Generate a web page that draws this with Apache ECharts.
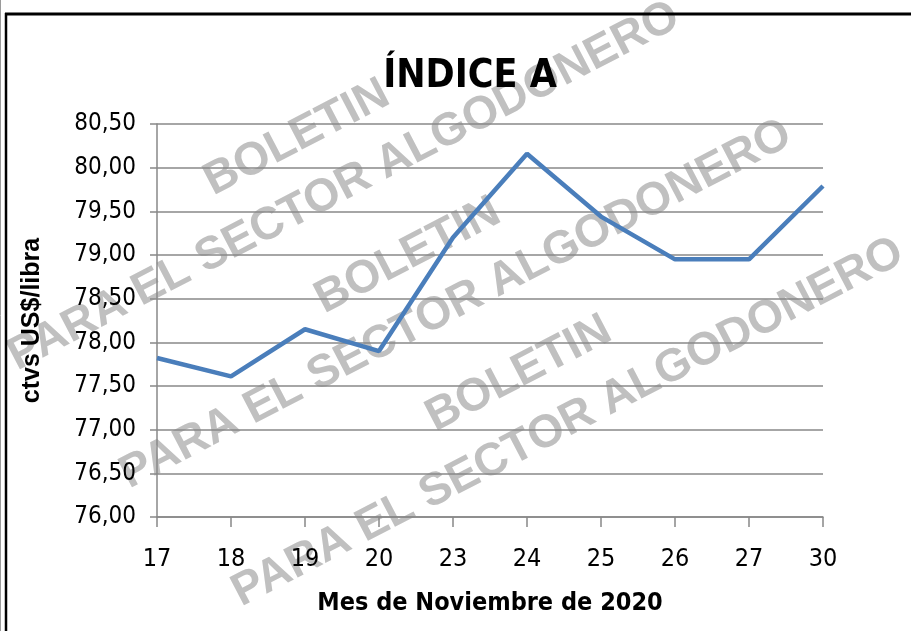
<!DOCTYPE html>
<html>
<head>
<meta charset="utf-8">
<script src="https://cdn.jsdelivr.net/npm/echarts@6/dist/echarts.min.js"></script>
<style>
  html, body { margin: 0; padding: 0; background: #fff; }
  #chart { width: 911px; height: 631px; }
</style>
</head>
<body>
<div id="chart"></div>
<script>
// dias de noviembre 2020 y cotizacion del indice A
var dias = ['17', '18', '19', '20', '23', '24', '25', '26', '27', '30'];
var indiceA = [77.82, 77.61, 78.15, 77.90, 79.20, 80.16, 79.44, 78.95, 78.95, 79.79];

var narrow = '"Liberation Sans Narrow", "DejaVu Sans Condensed", "Liberation Sans", sans-serif';
var gris = '#888888';

// marca de agua: tres bloques repetidos
var marcas = [
    { x: 22, y: 380, t: 'PARA EL SECTOR ALGODONERO' },
    { x: 218, y: 205, t: 'BOLETIN' },
    { x: 134, y: 498, t: 'PARA EL SECTOR ALGODONERO' },
    { x: 329, y: 323, t: 'BOLETIN' },
    { x: 246, y: 616, t: 'PARA EL SECTOR ALGODONERO' },
    { x: 440, y: 441, t: 'BOLETIN' }
];
var ang = 27.5 * Math.PI / 180;

var graficos = marcas.map(function (m) {
    return {
        type: 'text',
        x: m.x,
        y: m.y,
        rotation: ang,
        z: -1,
        silent: true,
        style: {
            text: m.t,
            fill: '#c0c0c0',
            font: 'bold 46px "Liberation Sans", Arial, sans-serif',
            textAlign: 'left',
            textVerticalAlign: 'bottom'
        }
    };
});

// marco del grafico
graficos.push({
    type: 'line', silent: true,
    shape: { x1: 5, y1: 14, x2: 911, y2: 14 },
    style: { stroke: '#000', lineWidth: 3 }
});
graficos.push({
    type: 'line', silent: true,
    shape: { x1: 6, y1: 13, x2: 6, y2: 631 },
    style: { stroke: '#000', lineWidth: 2.5 }
});
graficos.push({
    type: 'line', silent: true,
    shape: { x1: 0.5, y1: 0, x2: 0.5, y2: 631 },
    style: { stroke: '#9a9a9a', lineWidth: 1 }
});

var chart = echarts.init(document.getElementById('chart'));
chart.setOption({
    animation: false,
    backgroundColor: '#fff',
    title: {
        text: 'ÍNDICE A',
        left: 465,
        top: 52,
        textAlign: 'center',
        textStyle: { fontFamily: narrow, fontWeight: 'bold', fontSize: 39, color: '#000' }
    },
    graphic: graficos,
    grid: { left: 157, right: 88, top: 124, bottom: 114 },
    xAxis: {
        type: 'category',
        data: dias,
        boundaryGap: false,
        name: 'Mes de Noviembre de 2020',
        nameLocation: 'middle',
        nameGap: 74,
        nameTextStyle: { fontFamily: narrow, fontWeight: 'bold', fontSize: 25, color: '#000' },
        axisLine: { lineStyle: { color: gris, width: 1.5 } },
        axisTick: { alignWithLabel: true, length: 10, lineStyle: { color: gris, width: 1.5 } },
        axisLabel: { margin: 30, fontFamily: narrow, fontSize: 25, color: '#000' },
        splitLine: { show: false }
    },
    yAxis: {
        type: 'value',
        min: 76,
        max: 80.5,
        interval: 0.5,
        name: 'ctvs US$/libra',
        nameLocation: 'middle',
        nameGap: 112,
        nameTextStyle: { fontFamily: '"Liberation Sans", Arial, sans-serif', fontWeight: 'bold', fontSize: 25, color: '#000' },
        axisLine: { show: true, lineStyle: { color: gris, width: 1.5 } },
        axisTick: { show: true, length: 7, lineStyle: { color: gris, width: 1.5 } },
        axisLabel: {
            margin: 21,
            fontFamily: narrow,
            fontSize: 24,
            color: '#000',
            formatter: function (v) { return v.toFixed(2).replace('.', ','); }
        },
        splitLine: { lineStyle: { color: gris, width: 1.5 } }
    },
    series: [{
        type: 'line',
        data: indiceA,
        showSymbol: false,
        symbol: 'none',
        lineStyle: { color: '#4a7ebb', width: 4.5 },
        z: 3
    }]
});
</script>
</body>
</html>
